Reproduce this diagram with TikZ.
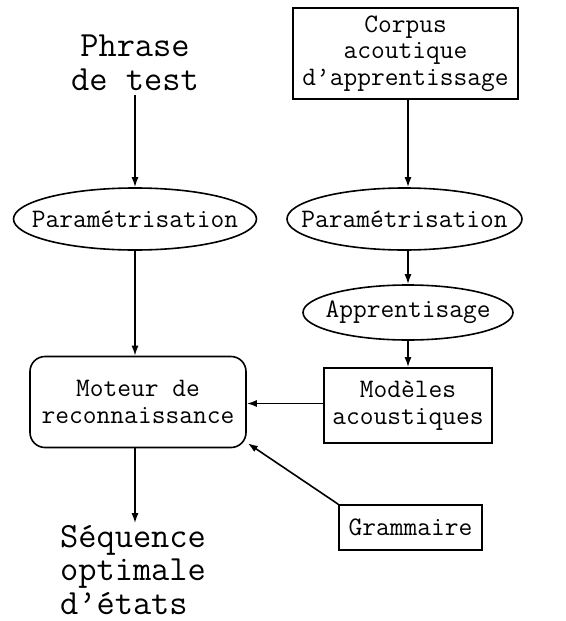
\documentclass[tikz,border=0pt]{standalone}
\usepackage{fontspec}
\usetikzlibrary{shapes.geometric,arrows.meta}
\begin{document}
\begin{tikzpicture}[x=1pt,y=-1pt,
  every node/.style={font=\ttfamily\fontsize{26.7}{26.5}\selectfont, inner sep=0pt},
  big/.style={font=\ttfamily\fontsize{35.4}{33.5}\selectfont},
  box/.style={draw, line width=1.6pt, align=center},
  oval/.style={draw, ellipse, line width=1.6pt},
  arr/.style={line width=1.6pt, -{Latex[length=10pt,width=7pt]}}]
\useasboundingbox (0,0) rectangle (565,621);
% left column
\node[big, align=center, inner sep=4pt] (phrase) at (135,63) {Phrase\\de test};
\node[oval, minimum width=243pt, minimum height=62pt] (p1) at (135,219) {\makebox[0pt]{Paramétrisation}};
\node[box, rounded corners=15pt, minimum width=216pt, minimum height=91pt] (mot) at (138,402) {Moteur de\\reconnaissance};
\node[big, align=left, inner sep=2pt] (seq) at (133,570) {Séquence\\optimale\\d’états};
% right column
\node[box, minimum width=225pt, minimum height=91pt] (corpus) at (405.5,53.5) {Corpus\\acoutique\\d’apprentissage};
\node[oval, minimum width=235pt, minimum height=62pt] (p2) at (404.5,219) {\makebox[0pt]{Paramétrisation}};
\node[oval, minimum width=210pt, minimum height=55pt] (app) at (408,312.5) {\makebox[0pt]{Apprentisage}};
\node[box, minimum width=168pt, minimum height=75pt] (mod) at (408,405.5) {Modèles\\acoustiques};
\node[box, minimum width=143pt, minimum height=45pt] (gram) at (410.5,527.5) {Grammaire};
% connectors
\draw[arr] (phrase.south) -- (p1.north);
\draw[arr] (p1.south) -- (p1.south |- mot.north);
\draw[arr] (mot.south -| p1.south) -- (p1.south |- seq.north);
\draw[arr] (corpus.south -| app.north) -- (app.north |- p2.north);
\draw[arr] (app.north |- p2.south) -- (app.north);
\draw[arr] (app.south) -- (mod.north);
\draw[arr] ([yshift=2pt]mod.west) -- ([yshift=2pt]mot.east |- mod.west);
\draw[arr] (gram.north west) -- ([shift={(1,-5)}]mot.south east);
\end{tikzpicture}
\end{document}
